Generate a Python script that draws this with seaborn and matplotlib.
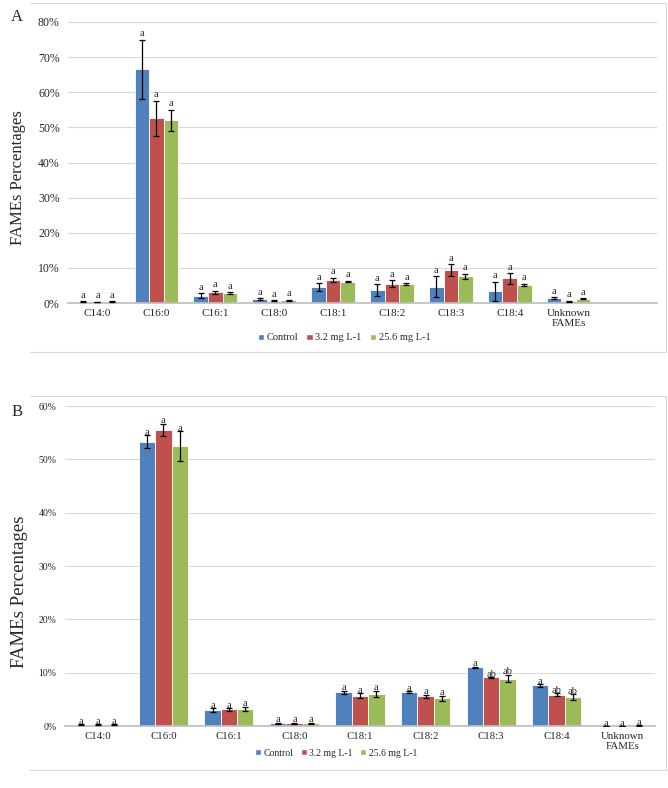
import numpy as np
import pandas as pd
import matplotlib.pyplot as plt
import seaborn as sns
from matplotlib.lines import Line2D
from matplotlib.patches import Patch

# FAME categories and treatments
cats = ['C14:0', 'C16:0', 'C16:1', 'C18:0', 'C18:1', 'C18:2', 'C18:3', 'C18:4', 'Unknown\nFAMEs']
groups = ['Control', '3.2 mg L-1', '25.6 mg L-1']
colors = ['#4F81BD', '#C0504D', '#9BBB59']

# Panel A (percent)
a_control = [0.4, 66.5, 2.1, 1.1, 4.5, 3.6, 4.6, 3.4, 1.4]
a_low = [0.3, 52.6, 3.1, 0.7, 6.6, 5.5, 9.4, 7.0, 0.5]
a_high = [0.4, 52.0, 2.9, 0.8, 6.1, 5.3, 7.6, 5.2, 1.2]
a_control_err = [0.1, 8.5, 0.7, 0.2, 1.2, 1.7, 3.0, 2.7, 0.2]
a_low_err = [0.1, 5.0, 0.4, 0.1, 0.6, 1.0, 1.7, 1.5, 0.1]
a_high_err = [0.1, 3.0, 0.2, 0.1, 0.2, 0.3, 0.7, 0.3, 0.1]
a_letters = [['a'] * 9, ['a'] * 9, ['a'] * 9]

# Panel B (percent)
b_control = [0.2, 53.3, 3.0, 0.5, 6.3, 6.3, 11.0, 7.6, 0.0]
b_low = [0.2, 55.5, 3.1, 0.5, 5.7, 5.6, 9.1, 5.9, 0.0]
b_high = [0.2, 52.5, 3.2, 0.5, 6.0, 5.2, 8.9, 5.4, 0.1]
b_control_err = [0.1, 1.2, 0.3, 0.1, 0.3, 0.2, 0.1, 0.2, 0.0]
b_low_err = [0.1, 1.2, 0.2, 0.1, 0.4, 0.3, 0.1, 0.2, 0.0]
b_high_err = [0.1, 2.8, 0.4, 0.1, 0.6, 0.5, 0.7, 0.6, 0.05]
b_letters = [['a'] * 9,
             ['a', 'a', 'a', 'a', 'a', 'a', 'ab', 'ab', 'a'],
             ['a', 'a', 'a', 'a', 'a', 'a', 'ab', 'ab', 'a']]

sns.set_theme(style='white')
plt.rcParams['font.family'] = ['Liberation Serif', 'DejaVu Serif']


def long_df(vals):
    rows = []
    for g, v in zip(groups, vals):
        for c, y in zip(cats, v):
            rows.append({'cat': c, 'group': g, 'value': y})
    return pd.DataFrame(rows)


def draw_panel(ax, vals, errs, letters, width, ymax, step, tick_fs, xtick_fs, lab_fs,
               letter_off, ylab_fs, ylab_pos):
    df = long_df(vals)
    sns.barplot(data=df, x='cat', y='value', hue='group', order=cats, hue_order=groups,
                palette=colors, width=width, errorbar=None, edgecolor='white',
                linewidth=0.6, saturation=1, ax=ax)
    bar_sets = list(ax.containers)
    for i, cont in enumerate(bar_sets):
        xs = [b.get_x() + b.get_width() / 2 for b in cont]
        hs = [b.get_height() for b in cont]
        ax.errorbar(xs, hs, yerr=errs[i], fmt='none', ecolor='black', elinewidth=0.9,
                    capsize=2, capthick=0.9, zorder=5)
        for x, h, e, t in zip(xs, hs, errs[i], letters[i]):
            ax.text(x, h + e + letter_off, t, ha='center', va='bottom', fontsize=lab_fs)
    ax.set_ylim(0, ymax)
    ax.set_yticks(np.arange(0, ymax + 0.1, step))
    ax.set_yticklabels([f'{v:.0f}%' for v in np.arange(0, ymax + 0.1, step)], fontsize=tick_fs)
    ax.tick_params(axis='x', labelsize=xtick_fs, length=0, pad=4)
    ax.tick_params(axis='y', length=0, pad=6)
    ax.grid(axis='y', color='#D9D9D9', linewidth=0.8)
    ax.set_axisbelow(True)
    for s in ['top', 'right', 'left']:
        ax.spines[s].set_visible(False)
    ax.spines['bottom'].set_color('#BFBFBF')
    ax.set_xlabel('')
    ax.set_ylabel('FAMEs Percentages', fontsize=ylab_fs)
    ax.yaxis.set_label_coords(*ylab_pos)
    ax.legend_.remove()


fig = plt.figure(figsize=(6.68, 7.88), dpi=100)
W, H = 668, 788


def fax(x0, y0, x1, y1):
    return fig.add_axes([x0 / W, 1 - y1 / H, (x1 - x0) / W, (y1 - y0) / H])


axA = fax(68, 22, 657, 303)
draw_panel(axA, [a_control, a_low, a_high], [a_control_err, a_low_err, a_high_err],
           a_letters, 0.74, 80, 10, 8.5, 8, 7.5, 0.4, 12, (-0.071, 0.445))
axA.set_xlim(-0.5, 9.5)

axB = fax(65, 406, 655, 726)
draw_panel(axB, [b_control, b_low, b_high], [b_control_err, b_low_err, b_high_err],
           b_letters, 0.75, 60, 10, 7, 7.8, 7.5, -0.3, 13.5, (-0.062, 0.42))
axB.set_xlim(-0.5, 8.5)

handles = [Patch(facecolor=c) for c in colors]
fig.legend(handles, groups, loc='center', bbox_to_anchor=(344 / W, 1 - 338 / H), ncol=3,
           frameon=False, fontsize=7.5, handlelength=0.6, handleheight=0.6,
           handletextpad=0.25, columnspacing=0.8)
fig.legend(handles, groups, loc='center', bbox_to_anchor=(336 / W, 1 - 753 / H), ncol=3,
           frameon=False, fontsize=7, handlelength=0.6, handleheight=0.6,
           handletextpad=0.25, columnspacing=0.8)

# chart area borders
for y0, y1 in [(3, 352), (396, 770)]:
    for seg in [((30, 666), (y0, y0)), ((30, 666), (y1, y1)), ((666, 666), (y0, y1))]:
        fig.add_artist(Line2D([seg[0][0] / W, seg[0][1] / W],
                              [1 - seg[1][0] / H, 1 - seg[1][1] / H],
                              color='#D9D9D9', linewidth=0.8))

fig.text(17 / W, 1 - 17 / H, 'A', fontsize=12, ha='center', va='center')
fig.text(17 / W, 1 - 412 / H, 'B', fontsize=12, ha='center', va='center')

fig.savefig('out.png', dpi=100)
